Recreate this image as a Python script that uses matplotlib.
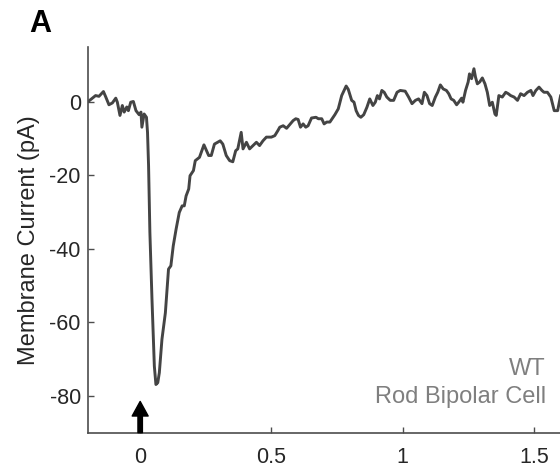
import matplotlib
matplotlib.use("Agg")
import matplotlib.pyplot as plt

plt.rcParams['font.family'] = ['Liberation Sans', 'DejaVu Sans']

# time (s) and membrane current (pA)
time_s = [
    -0.202, -0.189, -0.170, -0.157, -0.140, -0.131, -0.119, -0.106, -0.093, -0.087,
    -0.077, -0.068, -0.061, -0.051, -0.045, -0.036, -0.026, -0.016, -0.004, 0.003,
    0.0065, 0.015, 0.024, 0.028, 0.032, 0.037, 0.045, 0.054, 0.060, 0.067,
    0.073, 0.083, 0.096, 0.108, 0.117, 0.126, 0.137, 0.149, 0.160, 0.168,
    0.175, 0.185, 0.190, 0.203, 0.210, 0.226, 0.243, 0.261, 0.271, 0.283,
    0.305, 0.315, 0.328, 0.341, 0.353, 0.364, 0.372, 0.385, 0.392, 0.405,
    0.417, 0.430, 0.443, 0.455, 0.468, 0.481, 0.500, 0.513, 0.525, 0.532,
    0.545, 0.558, 0.583, 0.593, 0.602, 0.611, 0.621, 0.631, 0.640, 0.653,
    0.670, 0.679, 0.692, 0.701, 0.711, 0.723, 0.742, 0.755, 0.768, 0.785,
    0.793, 0.806, 0.815, 0.823, 0.832, 0.841, 0.852, 0.864, 0.875, 0.887,
    0.896, 0.904, 0.912, 0.921, 0.930, 0.940, 0.953, 0.966, 0.979, 0.991,
    1.010, 1.023, 1.036, 1.049, 1.061, 1.074, 1.083, 1.093, 1.103, 1.113,
    1.125, 1.134, 1.144, 1.155, 1.167, 1.176, 1.185, 1.195, 1.206, 1.214,
    1.225, 1.230, 1.240, 1.250, 1.255, 1.263, 1.272, 1.278, 1.285, 1.294,
    1.304, 1.314, 1.323, 1.332, 1.342, 1.352, 1.357, 1.367, 1.380, 1.393,
    1.403, 1.412, 1.425, 1.438, 1.450, 1.463, 1.476, 1.489, 1.497, 1.508,
    1.520, 1.531, 1.539, 1.552, 1.565, 1.578, 1.591, 1.602,
]
current_pa = [
    -0.1, 0.6, 1.7, 1.5, 2.8, 1.3, -0.8, -0.3, 1.0, -0.1,
    -3.7, -1.0, -2.8, -1.4, -2.4, -0.1, 0.1, -2.4, -3.5, -2.8,
    -6.9, -3.3, -4.2, -8.3, -17.4, -35.5, -53.7, -71.9, -76.9, -76.4,
    -73.7, -64.6, -57.4, -45.5, -44.6, -39.2, -34.6, -30.1, -28.3, -28.3,
    -25.6, -23.7, -20.1, -18.7, -16.0, -15.1, -11.7, -14.6, -14.6, -11.5,
    -10.6, -11.5, -14.6, -16.0, -16.3, -13.3, -12.8, -8.3, -12.8, -11.0,
    -12.8, -11.9, -11.0, -11.9, -10.6, -9.6, -9.6, -9.2, -7.8, -6.9,
    -6.5, -7.2, -5.1, -4.6, -4.8, -6.9, -6.0, -6.9, -6.5, -4.4,
    -4.2, -4.6, -4.6, -6.0, -5.5, -5.5, -3.5, -1.9, 1.7, 4.3,
    3.4, 0.4, -0.1, -2.4, -3.7, -4.2, -3.5, -1.5, 0.8, -1.0,
    -0.1, 1.7, 0.8, 3.1, 2.6, 1.3, 0.4, 0.4, 2.6, 3.1,
    2.9, 1.3, -0.5, 0.4, 0.8, -0.5, 2.6, 1.7, -0.5, -1.0,
    1.3, 2.6, 4.6, 3.5, 3.1, 2.2, 0.8, 0.4, -0.8, -0.1,
    1.0, -0.1, 3.1, 5.4, 7.6, 6.3, 9.0, 6.7, 4.9, 5.4,
    6.5, 4.9, 2.6, -1.0, -0.1, -3.3, -3.7, 1.7, 1.3, 2.6,
    2.2, 1.7, 1.3, 0.4, 2.2, 1.7, 2.6, 3.1, 1.7, 3.1,
    4.0, 3.1, 2.6, 2.6, 1.3, -2.4, -2.4, 1.6,
]

x_ticks = [0, 0.5, 1, 1.5]
x_tick_labels = ['0', '0.5', '1', '1.5']
y_ticks = [-80, -60, -40, -20, 0]
y_tick_labels = ['-80', '-60', '-40', '-20', '0']
stim_time = 0.0
annot_lines = ['WT', 'Rod Bipolar Cell']

fig = plt.figure(figsize=(5.6, 4.75), dpi=100)
ax = fig.add_axes([0.1566, 0.0891, 0.8434, 0.8126])

ax.plot(time_s, current_pa, color='#444444', lw=2.1, solid_joinstyle='round')

# stimulus arrow
ax.annotate('', xy=(stim_time, -81.5), xytext=(stim_time, -90),
            arrowprops=dict(facecolor='black', edgecolor='black', width=3.2,
                            headwidth=11.5, headlength=10.5, shrink=0),
            annotation_clip=False)

ax.text(1.546, -74.2, annot_lines[0], ha='right', va='baseline',
        fontsize=17, color='#7f7f7f')
ax.text(1.546, -81.9, annot_lines[1], ha='right', va='baseline',
        fontsize=17, color='#7f7f7f')

ax.set_xlim(-0.2, 1.6)
ax.set_ylim(-90, 15)
ax.set_xticks(x_ticks)
ax.set_xticklabels(x_tick_labels)
ax.set_yticks(y_ticks)
ax.set_yticklabels(y_tick_labels)
ax.tick_params(direction='in', length=4, width=1, color='#4d4d4d',
               labelsize=15.5, labelcolor='#262626')
ax.tick_params(axis='x', pad=10)
ax.tick_params(axis='y', pad=5)

for side in ['top', 'right']:
    ax.spines[side].set_visible(False)
for side in ['left', 'bottom']:
    ax.spines[side].set_color('#4d4d4d')
    ax.spines[side].set_linewidth(1.2)

ax.set_ylabel('Membrane Current (pA)', fontsize=17, color='#262626', labelpad=7)

fig.text(29 / 560, 1 - 32 / 475, 'A', fontsize=22, fontweight='bold',
         ha='left', va='baseline')

plt.savefig('out.png', dpi=100)
